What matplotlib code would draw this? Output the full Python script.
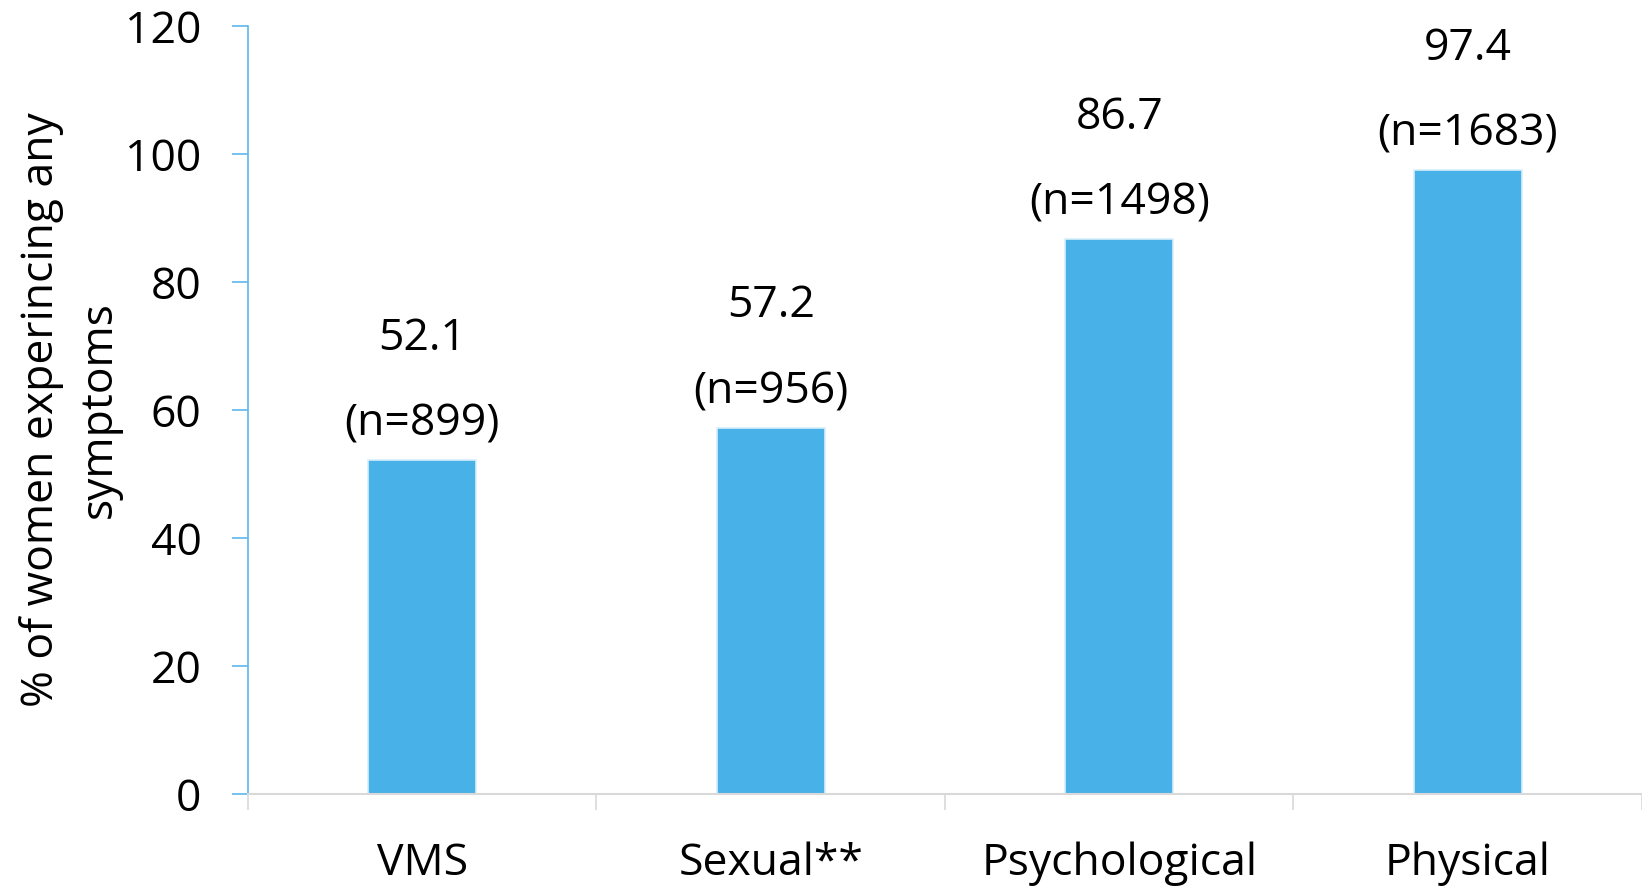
import numpy as np
import matplotlib.pyplot as plt

categories = ['VMS', 'Sexual**', 'Psychological', 'Physical']
percent = [52.1, 57.2, 86.7, 97.4]
counts = [899, 956, 1498, 1683]

plt.rcParams['font.family'] = ['Open Sans', 'DejaVu Sans']

fig = plt.figure(figsize=(16.42, 8.90), dpi=100)
ax = fig.add_axes([0.151, 0.108, 0.849, 0.863])

x = np.arange(len(categories))
ax.bar(x, percent, width=0.31, color='#48B1E7', edgecolor='#D8EEFA', linewidth=1.2, zorder=2)

for xi, p, n in zip(x, percent, counts):
    ax.text(xi, p + 19.0, f'{p}', ha='center', va='center', fontsize=32)
    ax.text(xi, p + 5.6, f'(n={n})', ha='center', va='center', fontsize=32)

ax.set_xlim(-0.5, 3.5)
ax.set_ylim(0, 120)
ax.set_yticks(np.arange(0, 121, 20))
ax.tick_params(axis='y', direction='out', length=11.5, width=1.2, color='#5BB8EC',
               labelsize=32, pad=22)

# category boundaries as major ticks, labels on minor ticks at centres
ax.set_xticks(np.arange(-0.5, 4, 1))
ax.set_xticklabels([])
ax.set_xticks(x, minor=True)
ax.set_xticklabels(categories, minor=True)
ax.tick_params(axis='x', which='major', direction='out', length=11.5, width=1.2, color='#D9D9D9')
ax.tick_params(axis='x', which='minor', length=0, labelsize=32, pad=34)

for s in ['top', 'right']:
    ax.spines[s].set_visible(False)
ax.spines['left'].set_color('#5BB8EC')
ax.spines['left'].set_linewidth(1.2)
ax.spines['bottom'].set_color('#D9D9D9')
ax.spines['bottom'].set_linewidth(1.5)

ax.set_ylabel('% of women experincing any\nsymptoms', fontsize=32, linespacing=1.4, labelpad=2)

fig.savefig('out.png', dpi=100)
